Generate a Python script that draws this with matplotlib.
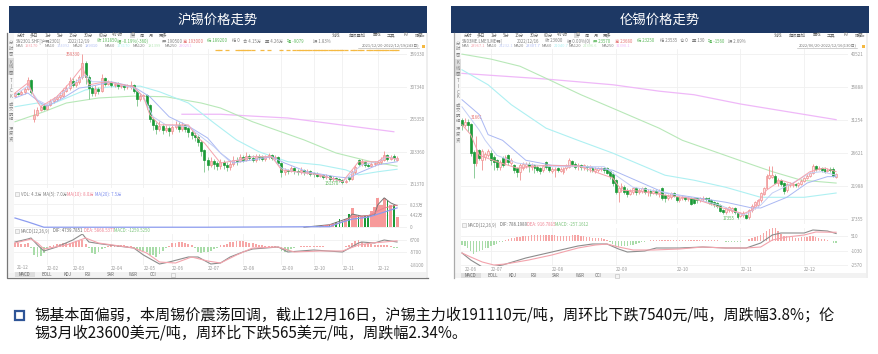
import matplotlib
matplotlib.use("Agg")
from matplotlib import pyplot as plt
from matplotlib.patches import Rectangle

plt.rcParams['font.family'] = ['Noto Sans CJK SC', 'DejaVu Sans']

W, H = 879, 354

# ---- 沪锡 (价格单位: 千元), 每根约两个交易日
sh_open = [292,296,295,298,303,318,255,262,270,276,
           272,278,284,287,290,293,301,305,316,310,
           315,322,345,322,305,297,303,300,320,312,
           314,310,311,308,309,306,307,310,300,287,
           292,293,278,255,246,240,244,238,240,236,
           243,246,240,245,240,234,230,226,218,205,
           190,182,188,184,180,186,182,178,183,190,
           188,194,190,196,193,190,196,194,192,194,
           197,193,194,185,170,173,172,176,172,170,
           174,170,172,168,167,165,165,162,164,160,
           161,159,158,155,162,160,170,190,183,187,
           182,181,183,184,186,190,197,192,196,190]
sh_close = [296,295,298,303,318,298,262,270,275,272,
            278,284,287,290,293,301,305,316,310,315,
            322,345,322,305,297,303,300,320,312,314,
            310,311,308,309,306,307,310,300,287,292,
            293,278,255,246,240,244,238,240,236,243,
            246,240,245,240,234,230,226,218,205,190,
            182,188,184,180,186,182,178,183,190,188,
            194,190,196,193,190,196,194,192,194,197,
            193,194,185,170,173,172,176,172,170,174,
            170,172,168,167,165,165,162,164,160,161,
            159,158,155,156,160,170,178,183,187,182,
            181,183,184,186,190,197,192,194,193,192]
sh_high = [299,298,301,307,322,320,272,274,278,279,
           281,287,290,294,298,305,309,322,321,319,
           326,359.33,348,325,308,310,306,327,323,318,
           316,314,314,312,312,312,316,312,302,297,
           296,295,280,258,250,252,248,246,244,248,
           252,250,250,248,244,238,234,230,222,208,
           194,194,192,188,192,190,186,188,196,194,
           200,198,202,200,197,200,199,198,198,201,
           200,198,196,187,177,176,180,178,175,178,
           176,175,174,171,170,168,167,167,166,164,
           163,161,160,159,165,174,182,192,191,189,
           185,187,188,190,194,204,200,198,199,196]
sh_low = [290,293,293,296,301,295,250,260,268,269,
          270,276,281,284,287,290,298,302,306,306,
          312,320,312,288,292,292,296,298,308,309,
          306,306,304,305,302,303,304,297,276,284,
          288,272,250,238,232,236,232,234,228,232,
          240,234,236,234,226,224,220,212,196,170,
          174,178,176,174,176,176,172,174,180,182,
          186,186,188,190,186,186,190,188,188,192,
          190,190,182,163,166,168,170,168,166,168,
          166,167,164,163,162,162,159,160,157,157,
          156,154,151.37,153,157,158,168,180,180,179,
          178,179,180,182,184,188,188,190,189,188]

sh_ma5_x = [0,4,6,8,13,17,21,23,26,29,37,40,42,45,54,57,59,64,70,74,80,83,95,102,105,107,113,115,119]
sh_ma5 = [297,313,291,275,291,313,339,310,313,315,307,291,262,246,246,225,217,185,190,195,195,174,166,155,174,187,187,195,191]
sh_ma10_x = [0,4,7,10,14,19,22,24,29,37,40,43,47,54,58,62,64,67,70,74,80,83,87,95,102,105,108,113,116,119]
sh_ma10 = [294,308,286,278,294,315,326,315,315,305,291,259,246,243,227,211,201,187,190,195,195,177,171,166,155,169,182,187,195,191]
sh_ma20_x = [0,4,8,10,15,20,23,30,37,42,48,54,60,64,68,74,80,84,91,100,104,107,113,119]
sh_ma20 = [289,297,281,276,289,305,307,315,307,291,259,244,225,201,185,190,195,185,171,163,161,169,182,187]
sh_ma60_x = [0,7,10,16,22,30,39,45,54,62,69,76,85,95,103,107,113,119]
sh_ma60 = [275,281,276,289,302,307,308,299,281,249,222,203,187,182,174,166,171,175]
sh_ma120_x = [0,9,16,26,37,47,58,64,74,90,100,111,119]
sh_ma120 = [251,267,281,289,292,291,281,273,251,222,201,187,180]
sh_ma250_x = [52,64,74,85,100,118]
sh_ma250 = [263,263,260,257,247,235]

# 成交量 (万手)
sh_vol = [0.0] * 85 + [0.05,0.1,0.1,0.1,0.2,0.2,0.5,0.2,0.3,0.4,0.4,0.5,0.8,1.0,1.2,2.0,2.9,2.5,3.0,5.0,
                       6.8,4.6,4.6,4.0,4.2,4.5,5.8,7.2,10.7,8.0,10.7,9.7,8.0,8.0,3.7]
sh_vol_ma5_x = [90,98,104,105,108,112,113,115,117,119]
sh_vol_ma5 = [0.1,1.0,3.4,4.8,4.1,4.5,8.1,10.6,8.8,7.8]
sh_vol_ma10_x = [95,101,105,110,115,119]
sh_vol_ma10 = [0.3,1.5,3.8,4.2,7.0,8.0]
sh_vol_ma20_x = [0,4,9,60,98,101,105,110,115,119]
sh_vol_ma20 = [3.4,2.0,0.1,0.1,0.3,1.6,3.0,3.7,5.5,7.0]

# MACD (千)
sh_dif_x = [0,4,5,7,9,13,18,21,23,27,37,40,45,48,54,57,61,64,67,71,74,82,85,93,102,107,108,112,115,119]
sh_dif = [4.7,7.7,8.7,1.7,-4.3,-0.3,6.7,12.7,4.7,2.7,-1.3,-8.3,-17.3,-15.3,-10.3,-10.3,-17.3,-16.3,-10.3,-5.3,-2.3,-0.3,-5.3,-3.3,-5.3,3.7,4.7,3.7,6.7,4.7]
sh_dea_x = [0,5,7,9,16,22,26,37,41,45,50,55,60,64,69,74,82,87,95,102,107,111,115,119]
sh_dea = [3.7,7.7,3.7,-2.3,1.7,8.7,3.7,-1.3,-6.3,-15.3,-16.3,-10.3,-14.3,-16.3,-8.3,-1.3,-0.3,-5.3,-4.3,-4.3,1.7,3.7,4.7,5.87]
sh_hist = [3.3,3.3,3.0,3.0,3.3,-1.6,-8.3,-10.0,-9.3,-6.6,-2.6,0.7,1.6,2.3,2.6,3.3,3.3,4.0,5.0,5.6,
           6.0,6.6,3.0,-1.6,-6.6,-7.3,-5.0,-2.6,-1.0,1.0,1.6,1.6,1.6,1.3,1.3,1.0,1.0,-1.0,-2.0,-3.3,
           -4.0,-5.0,-8.3,-8.3,-10.0,-7.0,-4.0,-1.6,1.0,3.3,4.0,5.0,5.0,4.0,3.0,1.6,-1.6,-5.0,-6.0,-5.0,
           -5.0,-4.0,-2.6,-1.6,1.6,2.0,2.6,4.3,5.0,5.6,6.0,5.6,4.6,4.0,4.0,2.6,2.0,1.3,1.0,0.6,
           0.3,0.3,-1.6,-4.6,-5.3,-4.0,-2.3,-1.3,-0.6,0.5,1.0,1.0,1.0,1.0,0.6,0.6,0.3,0.0,-0.3,-0.4,
           -0.6,-0.6,-0.6,0.3,1.6,3.3,5.6,6.6,5.0,2.6,2.3,2.3,2.0,2.0,2.0,1.6,2.0,0.6,-1.0,-1.0]

sh_event_bars = [63,64,66,69,70,71,72,73,74,77,79,83,85,87,88,89,90,91,92,93,94,95,96,97,98,99,100,101,102,103,
                 105,106,107,108,110,111,112,113,114,115,116,117,118,119]
sh_months = ['22-02','22-03','22-04','22-05','22-06','22-07','22-08','22-09','22-10','22-11','22-12']
sh_month_bars = [10,18,30,40,49,60,71,83,93,102,113]
sh_price_ticks = [359.33,307.34,255.35,203.36,151.37]
sh_price_labels = ['359330','307340','255350','203360','151370']

# ---- 伦锡 (价格单位: 百美元)
ls_open = [312,306,310,306,267,252,270,256,260,263,266,260,256,246,259,253,263,252,249,245,
           239,245,248,251,246,249,246,245,242,253,247,241,242,245,241,239,245,247,255,251,
           248,249,247,248,245,245,241,242,244,245,245,240,237,228,211,217,218,214,209,211,
           216,211,213,216,211,213,210,213,210,217,207,203,204,209,204,200,203,204,202,202,
           202,202,200,202,203,202,200,197,195,193,186,183,186,185,188,182,178,179,179,176,
           186,190,193,200,209,217,231,233,234,224,228,224,214,221,221,222,221,223,227,231,
           234,238,247,244,245,244,241,244,244,233]
ls_close = [306,310,305,266,252,270,259,268,265,268,256,253,246,253,249,260,253,256,242,239,
            249,251,251,248,249,245,243,241,247,246,242,244,243,242,244,245,248,256,251,246,
            249,247,249,246,247,242,244,245,245,242,238,234,224,211,217,220,211,209,213,216,
            211,214,216,211,213,210,213,210,213,203,203,206,209,206,200,203,204,202,203,195,
            196,200,203,203,202,197,196,195,192,185,183,189,190,188,183,176,182,182,175,186,
            192,197,200,210,217,234,235,235,224,228,222,213,222,222,222,221,224,227,231,234,
            238,248,244,245,242,240,242,242,234,236]
ls_high = [316,316,314,308,270,290,272,272,268,272,270,263,258,256,262,263,265,259,251,247,
           252,254,254,253,252,251,249,247,250,255,250,247,246,247,247,247,251,259,257,253,
           252,251,251,250,250,248,246,247,247,247,247,242,239,230,220,224,221,217,216,219,
           218,217,219,218,216,215,216,215,216,219,209,208,211,211,206,206,207,206,205,204,
           204,203,205,206,205,204,202,199,197,195,188,191,192,190,190,184,184,185,181,188,
           194,199,202,212,219,236,248,248,237,231,230,226,224,225,225,224,226,229,233,236,
           240,251,249,248,247,246,245,246,246,238]
ls_low = [298,302,296,262,231,248,256,242,256,260,250,242,242,243,246,250,250,249,238,232,
          228,242,245,240,243,238,240,236,239,244,240,238,232,240,239,237,243,245,248,244,
          243,242,243,241,240,240,238,240,241,238,236,230,220,208,197,212,209,205,207,209,
          207,209,210,208,206,206,208,207,205,200,198,200,201,204,197,198,200,199,199,193,
          194,196,197,199,198,195,193,191,189,183,181,181,184,182,180,174,176,177,173.55,174,
          184,188,191,198,207,215,229,231,222,220,220,208,212,218,218,218,219,221,225,229,
          232,236,241,242,240,238,239,240,232,231]

ls_ma5_x = [0,3,6,12,19,29,40,52,55,60,70,80,89,97,100,105,110,114,120,125,129]
ls_ma5 = [306,292,263,254,245,249,248,231,214,213,207,202,190,181,186,214,228,223,240,245,240]
ls_ma10_x = [0,6,8,12,19,31,49,52,59,70,80,89,97,99,103,107,114,120,124,129]
ls_ma10 = [331,298,284,263,252,247,247,238,218,211,202,193,179,183,193,210,224,238,240,235]
ls_ma20_x = [0,6,9,14,22,31,40,52,70,80,91,100,103,112,119,126,129]
ls_ma20 = [341,320,292,284,256,249,248,242,210,204,197,189,189,204,224,233,233]
ls_ma60_x = [0,9,17,29,40,52,70,80,91,103,110,118,129]
ls_ma60 = [383,362,334,301,284,266,235,228,218,204,204,204,210]
ls_ma120_x = [0,10,20,29,41,52,68,76,97,107,117,129]
ls_ma120 = [405,398,388,371,348,329,301,284,254,240,228,224]
ls_ma250_x = [0,29,52,68,80,96,117,129]
ls_ma250 = [378,370,362,353,348,335,321,313]

ls_dif_x = [0,3,7,10,14,22,31,40,45,50,54,57,63,67,75,83,91,98,103,107,110,118,121,126,129]
ls_dif = [-1260,-1995,-2730,-2730,-2520,-1785,-1155,-525,-315,-315,-840,-1155,-1050,-735,-735,-630,-735,-735,-210,630,840,840,1155,1050,786]
ls_dea_x = [0,3,7,11,15,23,31,40,46,50,54,59,66,75,83,91,98,103,107,112,118,122,129]
ls_dea = [-1260,-1680,-2205,-2520,-2415,-1995,-1470,-735,-420,-315,-630,-945,-945,-840,-630,-735,-735,-630,105,420,630,945,917]
ls_hist = [-420,-525,-700,-1050,-1330,-1120,-1050,-980,-770,-700,-490,-420,-280,-140,-70,140,245,280,350,385,
           420,490,525,560,595,630,630,630,630,630,630,630,595,525,525,525,525,560,630,630,
           595,525,490,455,385,350,315,280,280,210,105,-70,-350,-490,-595,-560,-525,-490,-420,-420,
           -350,-245,-140,-70,35,70,105,105,105,105,105,70,105,105,105,70,105,105,70,105,
           105,70,105,70,105,70,70,70,70,-35,-35,-70,-70,-70,-70,-70,-70,-35,-35,210,
           350,455,525,630,875,1050,1260,1400,1400,1050,770,560,490,420,385,350,350,385,420,455,
           525,490,420,350,245,210,105,35,-175,-257]

ls_months = ['22-07','22-08','22-09','22-10','22-11','22-12']
ls_month_bars = [10,31,53,74,96,118]
ls_price_ticks = [405.21,358.88,312.54,266.21,219.88,173.55]
ls_price_labels = ['40521','35888','31254','26621','21988','17355']

NAVY = '#1d3864'
UP = '#f09090'
UP_FILL = '#fde8e8'
DOWN = '#1a9a36'
GRID = '#f0f0f0'
TXT = '#808080'
MA_COLORS = {'ma5': '#f5a3ad', 'ma10': '#c3cef5', 'ma20': '#aab8f3', 'ma60': '#aef0f2',
             'ma120': '#b8e8b8', 'ma250': '#efb8f8'}


def add_panel(x0, x1, ytop, ybot, xlim, ylim):
    ax = fig.add_axes([x0 / W, 1 - ybot / H, (x1 - x0) / W, (ybot - ytop) / H])
    ax.set_xlim(*xlim)
    ax.set_ylim(*ylim)
    ax.patch.set_alpha(0)
    for s in ax.spines.values():
        s.set_visible(False)
    ax.grid(True, color=GRID, lw=0.6)
    ax.set_axisbelow(True)
    ax.tick_params(length=0, labelsize=3.3, labelcolor='#999999', pad=2)
    ax.yaxis.tick_right()
    ax.set_xticks([])
    return ax


def candles(ax, o, c, hi, lo, width, fill):
    for i in range(len(o)):
        up = c[i] >= o[i]
        col = UP if up else DOWN
        wick = UP if up else '#7cc48a'
        ax.vlines(i, lo[i], hi[i], color=wick, lw=0.6, zorder=3)
        ax.bar(i, abs(c[i] - o[i]) + 0.4, bottom=min(o[i], c[i]), width=width,
               facecolor=fill if up else DOWN, edgecolor=col, lw=0.5, zorder=4)


def macd(ax, hist, dif_x, dif, dea_x, dea, width):
    colors = ['#f6a6a6' if v >= 0 else '#a9dca9' for v in hist]
    ax.bar(range(len(hist)), hist, width=width, color=colors, zorder=2)
    ax.plot(dif_x, dif, color='#8c8c8c', lw=0.8, zorder=3)
    ax.plot(dea_x, dea, color='#f3a3ac', lw=0.8, zorder=3)


def chart_text(x, y, s, color=TXT, size=3.1, ha='left', **kw):
    bg.text(x, y, s, color=color, fontsize=size, ha=ha, va='center', **kw)


fig = plt.figure(figsize=(W / 100, H / 100), dpi=100, facecolor='white')
bg = fig.add_axes([0, 0, 1, 1])
bg.set_xlim(0, W)
bg.set_ylim(H, 0)
bg.axis('off')

# 标题栏和外框
for x0, x1, title in [(9, 427, '沪锡价格走势'), (451, 869, '伦锡价格走势')]:
    bg.add_patch(Rectangle((x0, 6), x1 - x0, 27, color=NAVY, lw=0))
    bg.text((x0 + x1) / 2, 19.5, title, color='white', fontsize=9.6, ha='center', va='center')

bg.add_patch(Rectangle((8, 272), 420, 5, color='#f2f2f2', lw=0))
bg.add_patch(Rectangle((455, 273), 413, 5, color='#f2f2f2', lw=0))
bg.add_patch(Rectangle((8, 33), 6.5, 240, color='#f6f6f6', lw=0))
bg.add_patch(Rectangle((455, 33), 6.5, 240, color='#f6f6f6', lw=0))
bg.add_patch(Rectangle((426, 33), 2.5, 245, color='#eeeeee', lw=0))
bg.add_patch(Rectangle((866, 33), 2.5, 245, color='#eeeeee', lw=0))
bg.plot([7, 7, 428], [33, 278, 278], color='#777777', lw=0.9)
bg.plot([454, 454], [33, 278], color='#aaaaaa', lw=0.9)
bg.add_patch(Rectangle((8, 58), 6.5, 17, color='#dcdcdc', lw=0))
bg.add_patch(Rectangle((455, 59), 6.5, 17, color='#dcdcdc', lw=0))
bg.add_patch(Rectangle((130, 32.5), 5, 5, color='#dcdcdc', lw=0))
bg.add_patch(Rectangle((574.5, 32.5), 5, 5, color='#dcdcdc', lw=0))
bg.add_patch(Rectangle((422, 45), 3.5, 3, color='#f5b942', lw=0))
bg.add_patch(Rectangle((862, 45), 3.5, 3, color='#f5b942', lw=0))
bg.plot([358, 419], [48, 48], color='#aaaaaa', lw=0.4)
bg.plot([797, 857], [48, 48], color='#aaaaaa', lw=0.4)

# 副图标题前的小方框
for x, y in [(15, 192), (15, 229), (462, 223), (171, 273), (615, 274)]:
    bg.add_patch(Rectangle((x, y), 4, 4, facecolor='#f4f4f4', edgecolor='#bbbbbb', lw=0.4))

# 左侧竖排标签
side_chars = ['分', '时', '图', 'K', '线', '图', 'T', 'I', 'C', 'K', '成', '交', '明', '细', '深', '度', '资']
side_ys = [42, 48, 53, 62, 67, 72, 80, 86, 91, 96, 104, 109, 114, 119, 128, 133, 139]
for ch, yy in zip(side_chars, side_ys):
    chart_text(11, yy, ch, ha='center')
    chart_text(458, yy + 1, ch, ha='center')

# 工具栏
tool_labels = ['分时', '多日', '1分', '5分', '15分', '30分', '60分', '4小时', '日', '周', '月', '更多']
for x, s in zip([21, 34, 48, 60, 73, 88, 103, 117, 132, 142, 151, 163], tool_labels):
    chart_text(x, 35, s, ha='center', color='#666666')
for x, s in zip([468, 481, 494, 506, 519, 534, 548, 562, 577, 587, 596, 607], tool_labels):
    chart_text(x, 35, s, ha='center', color='#666666')
tool_right = ['划线', '超级叠加', '画线', '工具', 'F9', '隐藏▸']
for x, s in zip([336, 357, 377, 391, 406, 420], tool_right):
    chart_text(x, 35, s, ha='center', color='#666666')
for x, s in zip([778, 797, 817, 831, 846, 860], tool_right):
    chart_text(x, 35, s, ha='center', color='#666666')

# 行情信息
info_left = [(16, 'SN2301.SHF[沪锡2301]', TXT), (68, '2022/12/19', TXT), (97, '收 191850', '#5cb85c'),
             (117, '幅 -0.19%(-360)', '#5cb85c'), (162, '开 190500', TXT), (183, '高 193000', '#e57373'),
             (207, '低 189200', '#5cb85c'), (232, '结 0', TXT), (243, '合 4.15万', TXT),
             (265, '量 4.26万', TXT), (287, '现 -9079', '#5cb85c'), (313, '振 1.83%', TXT)]
info_right = [(462, 'SN03ME.LME[LME锡]', TXT), (517, '2022/12/16', TXT), (545, '收 23600', TXT),
              (567, '幅 0.00%(0)', TXT), (593, '开 23570', '#5cb85c'), (615, '高 23680', '#e57373'),
              (637, '低 23250', '#5cb85c'), (660, '结 23535', TXT), (680, '仓 0', TXT),
              (692, '量 130', TXT), (708, '现 -1560', '#5cb85c'), (728, '振 2.69%', TXT)]
for x, s, col in info_left + info_right:
    chart_text(x, 41, s, color=col)

ma_left = [(16, 'MA5', '193170', 'ma5'), (45, 'MA10', '194092', 'ma10'), (73, 'MA20', '189310', 'ma20'),
           (105, 'MA60', '173170', 'ma60'), (133, 'MA120', '181399', 'ma120'), (165, 'MA250', '290251', 'ma250')]
ma_right = [(462, 'MA5', '23967.1', 'ma5'), (487, 'MA10', '24232.1', 'ma10'), (514, 'MA20', '23307.7', 'ma20'),
            (542, 'MA60', '21040.7', 'ma60'), (569, 'MA120', '22396.6', 'ma120'), (602, 'MA250', '31390.1', 'ma250')]
for x, lab, val, key in ma_left + ma_right:
    chart_text(x, 46, lab, size=2.9)
    chart_text(x + 2.7 * len(lab) + 0.8, 46, val, color=MA_COLORS[key], size=2.9)
chart_text(419, 45.5, '2021/12/20-2022/12/19(243日)', ha='right', color='#777777', size=2.9)
chart_text(857, 45.5, '2022/06/20-2022/12/16(130日)', ha='right', color='#777777', size=2.9)

# 副图标题
chart_text(21, 194, 'VOL: 4.3万')
chart_text(43, 194, 'MA(5): 7.0万')
chart_text(67, 194, 'MA(10): 8.0万', color='#ee8090')
chart_text(95, 194, 'MA(20): 7.5万', color='#8090ee')
chart_text(21, 231, 'MACD(12,26,9)')
chart_text(53, 231, 'DIF: 4739.7851', color='#666666')
chart_text(84, 231, 'DEA: 5868.5377', color='#ee8090')
chart_text(114, 231, 'MACD: -1259.5250', color='#7cc47c')
chart_text(468, 225, 'MACD(12,26,9)')
chart_text(500, 225, 'DIF: 786.1989', color='#666666')
chart_text(527, 225, 'DEA: 916.7805', color='#ee8090')
chart_text(555, 225, 'MACD: -257.1612', color='#7cc47c')

# 底部页签
tabs = ['MACD', 'BOLL', 'KDJ', 'RSI', 'SAR', 'WSR', 'CCI']
bg.add_patch(Rectangle((15, 272), 20, 5, color='#dddddd', lw=0))
bg.add_patch(Rectangle((461, 273), 20, 5, color='#dddddd', lw=0))
for x, s in zip([24, 47, 68, 88, 111, 133, 153], tabs):
    chart_text(x, 275, s, ha='center', color='#666666')
for x, s in zip([470, 493, 513, 534, 556, 580, 598], tabs):
    chart_text(x, 275.5, s, ha='center', color='#666666')

# 沪锡主图
sh_xlim = (-0.31, 122.1)
ax = add_panel(14, 407, 49, 188, sh_xlim, (145, 367.4))
candles(ax, sh_open, sh_close, sh_high, sh_low, 0.62, '#f9c4c4')
ax.plot(sh_ma250_x, sh_ma250, color=MA_COLORS['ma250'], lw=0.9)
ax.plot(sh_ma120_x, sh_ma120, color=MA_COLORS['ma120'], lw=0.8)
ax.plot(sh_ma60_x, sh_ma60, color=MA_COLORS['ma60'], lw=0.8)
ax.plot(sh_ma20_x, sh_ma20, color=MA_COLORS['ma20'], lw=0.7, zorder=5)
ax.plot(sh_ma10_x, sh_ma10, color=MA_COLORS['ma10'], lw=0.7, zorder=5)
ax.plot(sh_ma5_x, sh_ma5, color=MA_COLORS['ma5'], lw=0.7, zorder=5)
ax.plot(sh_event_bars, [365.8] * len(sh_event_bars), ls='none', marker='_', ms=3, mew=0.9, color='#f5b942')
ax.set_yticks(sh_price_ticks, sh_price_labels)
ax.set_xticks(sh_month_bars, [''] * len(sh_month_bars))
ax.text(20.5, 359.33, '359330', fontsize=3.1, color='#e57373', ha='right', va='center')
ax.text(96.5, 152.5, '151370', fontsize=3.1, color='#5cb85c', ha='left', va='center')

# 沪锡成交量
ax = add_panel(14, 407, 197, 228, sh_xlim, (-0.18, 10.9))
vol_colors = ['#f79a9a' if sh_close[i] >= sh_open[i] else DOWN for i in range(len(sh_vol))]
vol_widths = [0.95 if sh_close[i] >= sh_open[i] else 0.45 for i in range(len(sh_vol))]
ax.bar(range(len(sh_vol)), sh_vol, width=vol_widths, color=vol_colors, zorder=2)
ax.plot(sh_vol_ma5_x, sh_vol_ma5, color='#777777', lw=0.7, zorder=3)
ax.plot(sh_vol_ma10_x, sh_vol_ma10, color='#ee8090', lw=0.7, zorder=3)
ax.plot(sh_vol_ma20_x, sh_vol_ma20, color='#8c9cf0', lw=0.9, zorder=3)
ax.set_yticks([0, 4.42, 8.23], ['0', '4.42万', '8.23万'])
ax.set_xticks(sh_month_bars, [''] * len(sh_month_bars))

# 沪锡 MACD
ax = add_panel(14, 407, 234, 265, sh_xlim, (-18.3, 12.7))
macd(ax, sh_hist, sh_dif_x, sh_dif, sh_dea_x, sh_dea, 0.6)
ax.set_yticks([6.7, -5.7, -18.1], ['6700', '-5700', '-18100'])
ax.set_xticks(sh_month_bars, sh_months, ha='left')
ax.tick_params(axis='x', pad=0.5)
ax.text(0.5, -20.9, '21-12', fontsize=3.3, color='#999999', va='center')

# 伦锡主图
ls_xlim = (-0.34, 133.1)
ax = add_panel(461, 848, 49, 224, ls_xlim, (166.5, 412.2))
candles(ax, ls_open, ls_close, ls_high, ls_low, 0.68, UP_FILL)
ax.plot(ls_ma250_x, ls_ma250, color=MA_COLORS['ma250'], lw=0.9)
ax.plot(ls_ma120_x, ls_ma120, color=MA_COLORS['ma120'], lw=0.8)
ax.plot(ls_ma60_x, ls_ma60, color=MA_COLORS['ma60'], lw=0.8)
ax.plot(ls_ma20_x, ls_ma20, color=MA_COLORS['ma20'], lw=0.7, zorder=5)
ax.plot(ls_ma10_x, ls_ma10, color=MA_COLORS['ma10'], lw=0.7, zorder=5)
ax.plot(ls_ma5_x, ls_ma5, color=MA_COLORS['ma5'], lw=0.7, zorder=5)
ax.set_yticks(ls_price_ticks, ls_price_labels)
ax.set_xticks(ls_month_bars, [''] * len(ls_month_bars))
ax.text(3, 316, '31661', fontsize=3.1, color='#e57373', ha='left', va='center')
ax.text(94, 173.55, '17355', fontsize=3.1, color='#5cb85c', ha='right', va='center')

# 伦锡 MACD
ax = add_panel(461, 848, 228, 266, ls_xlim, (-2625, 1365))
macd(ax, ls_hist, ls_dif_x, ls_dif, ls_dea_x, ls_dea, 0.45)
ax.set_yticks([510, -1030, -2570], ['510', '-1030', '-2570'])
ax.set_xticks(ls_month_bars, ls_months, ha='left')
ax.tick_params(axis='x', pad=0.5)
ax.text(1, -2985, '22-06', fontsize=3.3, color='#999999', va='center')

# 底部文字
bg.add_patch(Rectangle((15.5, 310.5), 9, 9.5, facecolor='white', edgecolor='#2f5597', lw=1.6))
bg.text(34, 315.5, '锡基本面偏弱，本周锡价震荡回调，截止12月16日，沪锡主力收191110元/吨，周环比下跌7540元/吨，周跌幅3.8%；伦',
        fontsize=10.9, color='#111111', va='center', ha='left')
bg.text(34, 333, '锡3月收23600美元/吨，周环比下跌565美元/吨，周跌幅2.34%。',
        fontsize=10.9, color='#111111', va='center', ha='left')

plt.savefig('out.png', dpi=100)
